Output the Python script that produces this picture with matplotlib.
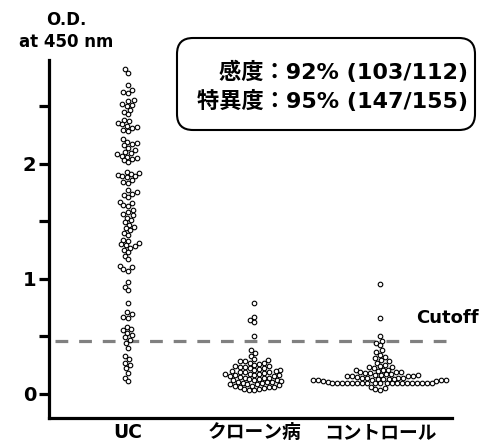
import numpy as np
import matplotlib
matplotlib.use('Agg')
import matplotlib.pyplot as plt
from matplotlib.patches import FancyBboxPatch

plt.rcParams['font.family'] = ['DejaVu Sans', 'Noto Sans CJK JP']
plt.rcParams['font.weight'] = 'bold'

groups = ['UC', 'クローン病', 'コントロール']

uc = [2.82, 2.79,
      2.68, 2.64, 2.62, 2.61,
      2.55, 2.54, 2.52, 2.51, 2.50,
      2.47, 2.45, 2.43,
      2.38, 2.37, 2.35, 2.34, 2.33, 2.32, 2.31, 2.29, 2.28,
      2.21, 2.19, 2.18, 2.17, 2.16, 2.14, 2.12,
      2.10, 2.09, 2.08, 2.07, 2.06, 2.05, 2.04, 2.03, 2.01,
      1.93, 1.92, 1.91, 1.90, 1.89, 1.89, 1.88,
      1.86, 1.84, 1.83,
      1.77, 1.75, 1.74, 1.73, 1.71,
      1.67, 1.66, 1.64, 1.63,
      1.60, 1.58, 1.56, 1.55, 1.53, 1.51,
      1.49, 1.47, 1.45, 1.44, 1.42, 1.40, 1.38,
      1.34, 1.33, 1.31, 1.30, 1.29, 1.28, 1.27, 1.25,
      1.23, 1.20, 1.17,
      1.11, 1.10, 1.08, 1.07,
      0.97, 0.93, 0.90,
      0.79,
      0.71, 0.69, 0.67, 0.66,
      0.58, 0.56, 0.55, 0.53, 0.51, 0.49, 0.47,
      0.44, 0.40, 0.33, 0.30, 0.27, 0.25, 0.22, 0.18, 0.14, 0.11]

crohn = [0.79, 0.67, 0.64, 0.62, 0.50, 0.38, 0.35, 0.33,
         0.30, 0.29, 0.285, 0.28, 0.27,
         0.265, 0.26, 0.25, 0.245, 0.24, 0.235, 0.23,
         0.225, 0.22, 0.215, 0.21, 0.205, 0.20, 0.195, 0.19, 0.19,
         0.185, 0.18, 0.175, 0.17, 0.17, 0.165, 0.16, 0.16, 0.155, 0.15,
         0.145, 0.14, 0.14, 0.135, 0.13, 0.125, 0.12, 0.12, 0.115, 0.11,
         0.105, 0.10, 0.10, 0.095, 0.09, 0.085, 0.08, 0.08, 0.075, 0.07,
         0.065, 0.06, 0.06, 0.055, 0.05, 0.045, 0.04, 0.035, 0.03]

control = [0.95, 0.66, 0.50, 0.46, 0.44, 0.42,
           0.38, 0.36, 0.34, 0.32, 0.31, 0.29, 0.28, 0.27,
           0.25, 0.24, 0.235, 0.23, 0.22, 0.21, 0.21, 0.205, 0.20, 0.19, 0.19,
           0.185, 0.18, 0.18,
           0.17, 0.17, 0.165, 0.16, 0.16, 0.155, 0.155, 0.15, 0.15, 0.145,
           0.14, 0.14, 0.14, 0.135, 0.13, 0.13, 0.13, 0.125, 0.12, 0.12,
           0.12, 0.12, 0.115, 0.11, 0.11, 0.105,
           0.09, 0.09, 0.09, 0.09, 0.09, 0.09, 0.09, 0.09, 0.09, 0.09,
           0.09, 0.09, 0.09, 0.09, 0.09, 0.09, 0.09, 0.09, 0.09, 0.09,
           0.06, 0.05, 0.04, 0.03]

cutoff = 0.46
y_ticks = [0, 0.5, 1, 1.5, 2, 2.5]
y_labels = ['0', '', '1', '', '2', '']
stats_lines = ['感度：92% (103/112)', '特異度：95% (147/155)']


def swarm_offsets(vals, d, ppu_x, ppu_y):
    # simple beeswarm in pixel space, returns x offsets in data units
    vals = np.asarray(vals, dtype=float)
    order = np.argsort(vals, kind='stable')
    placed = []
    offs = np.zeros(len(vals))
    for i in order:
        y = vals[i] * ppu_y
        cands = [0.0]
        for px, py in placed:
            dy = abs(py - y)
            if dy < d:
                dx = np.sqrt(d * d - dy * dy)
                cands += [px - dx, px + dx]
        cands.sort(key=abs)
        for c in cands:
            if all((c - px) ** 2 + (y - py) ** 2 >= d * d - 1e-6 for px, py in placed):
                break
        placed.append((c, y))
        offs[i] = c / ppu_x
    return offs


fig = plt.figure(figsize=(4.83, 4.45), dpi=100)
ax = fig.add_axes([0.101, 0.061, 0.835, 0.804])
ax.set_xlim(-0.63, 2.57)
ax.set_ylim(-0.21, 2.90)

w_px = fig.get_figwidth() * fig.dpi * 0.835
h_px = fig.get_figheight() * fig.dpi * 0.804
ppu_x = w_px / (2.57 + 0.63)
ppu_y = h_px / (2.90 + 0.21)

for k, vals in enumerate([uc, crohn, control]):
    offs = swarm_offsets(vals, 5.0, ppu_x, ppu_y)
    ax.plot(k + offs, vals, 'o', ms=3.3, mfc='white', mec='black', mew=0.8,
            linestyle='none', zorder=3)

ax.plot([-0.58, 2.57], [cutoff, cutoff], color='#808080', lw=2.3,
        dashes=(4.0, 3.4), zorder=2)
ax.text(1.065, cutoff + 0.20, 'Cutoff', transform=ax.get_yaxis_transform(),
        ha='right', va='center', fontsize=13, clip_on=False)

for side in ['top', 'right']:
    ax.spines[side].set_visible(False)
ax.spines['left'].set_linewidth(2.3)
ax.spines['bottom'].set_linewidth(2.3)

ax.set_yticks(y_ticks)
ax.set_yticklabels(y_labels, fontsize=14)
ax.tick_params(axis='y', length=7, width=2.3, pad=2)
ax.set_xticks(range(len(groups)))
ax.set_xticklabels(groups, fontsize=13.5)
ax.tick_params(axis='x', length=0, pad=4)

fig.text(66 / 483, 1 - 31 / 445, 'O.D.\nat 450 nm', ha='center', va='center',
         fontsize=12, linespacing=1.25)

box = FancyBboxPatch((1.77, 3.15), 2.98, 0.92, boxstyle='round,pad=0,rounding_size=0.16',
                     transform=fig.dpi_scale_trans, fc='white', ec='black', lw=1.5)
fig.patches.append(box)
fig.text(468 / 483, 1 - 72 / 445, stats_lines[0], ha='right', va='center', fontsize=16)
fig.text(468 / 483, 1 - 101 / 445, stats_lines[1], ha='right', va='center', fontsize=16)

fig.savefig('out.png', dpi=100)
